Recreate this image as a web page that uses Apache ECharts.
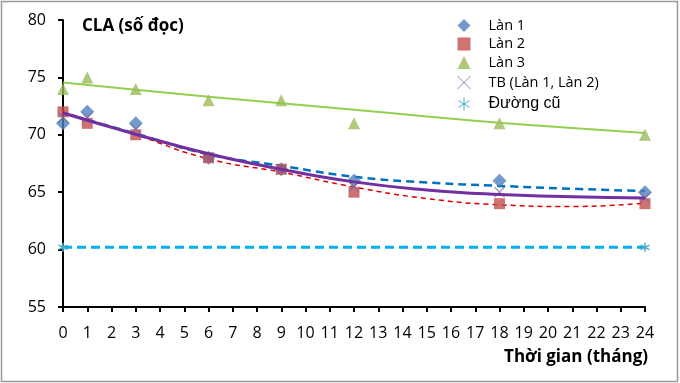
<!DOCTYPE html>
<html>
<head>
<meta charset="utf-8">
<script src="https://cdn.jsdelivr.net/npm/echarts@6/dist/echarts.min.js"></script>
<style>html,body{margin:0;padding:0;background:#fff}#c{width:680px;height:383px}</style>
</head>
<body>
<div id="c"></div>
<script>
// ---- data ----
var months = [0, 1, 3, 6, 9, 12, 18, 24];
var lan1 = [71, 72, 71, 68, 67, 66, 66, 65];
var lan2 = [72, 71, 70, 68, 67, 65, 64, 64];
var lan3 = [74, 75, 74, 73, 73, 71, 71, 70];
var tb   = [71.5, 71.5, 70.5, 68, 67, 65.5, 65, 64.5];
var cuMonths = [0, 24];
var cu = [60.2, 60.2];
// trend lines
var trendMonths = [0, 3, 6, 9, 12, 15, 18, 21, 24];
var trendLan1 = [71.9, 70.1, 68.3, 67.3, 66.35, 65.85, 65.55, 65.3, 65.1];
var trendLan2 = [72.0, 70.0, 67.9, 66.75, 65.45, 64.45, 63.9, 63.75, 64.05];
var trendLan3 = [74.55, 73.92, 73.32, 72.74, 72.18, 71.6, 71.05, 70.6, 70.16];
var trendTB   = [71.9, 70.05, 68.35, 67.0, 65.9, 65.2, 64.8, 64.6, 64.5];
var names = ['Làn 1', 'Làn 2', 'Làn 3', 'TB (Làn 1, Làn 2)', 'Đường cũ'];
var xTicks = [0, 24, 1];
var yTicks = [55, 80, 5];

function pairs(xs, ys) { return xs.map(function (x, i) { return [x, ys[i]]; }); }

var FONT = 'Open Sans';
var xPath = 'path://M0,0L10,10M10,0L0,10';
var starPath = 'path://M5,0L5,10M0.7,2.5L9.3,7.5M0.7,7.5L9.3,2.5';

var chart = echarts.init(document.getElementById('c'));
chart.setOption({
  animation: false,
  backgroundColor: '#fff',
  graphic: [{
    type: 'rect', shape: { x: 1.5, y: 1.5, width: 676, height: 380 },
    style: { fill: 'none', stroke: '#9a9a9a', lineWidth: 1.5 }, silent: true, z: -1
  }],
  title: [
    { text: 'CLA (số đọc)', left: 82, top: 18, padding: 0,
      textStyle: { fontFamily: FONT, fontSize: 17, fontWeight: 'bold', color: '#000' } },
    { text: 'Thời gian (tháng)', right: 32, top: 349, padding: 0,
      textStyle: { fontFamily: FONT, fontSize: 17, fontWeight: 'bold', color: '#000' } }
  ],
  legend: {
    orient: 'vertical', left: 450, top: 13, itemGap: 3.5, itemWidth: 13, itemHeight: 13,
    textStyle: { fontFamily: FONT, fontSize: 14.5, color: '#000', padding: [0, 0, 0, 13],
      rich: { a: { fontFamily: 'Liberation Sans', fontSize: 16, color: '#000' } } },
    formatter: function (n) { return n === 'Đường cũ' ? '{a|' + n + '}' : n; },
    data: [
      { name: names[0], icon: 'diamond' },
      { name: names[1], icon: 'rect' },
      { name: names[2], icon: 'triangle' },
      { name: names[3], icon: xPath, itemStyle: { color: 'none', borderColor: '#8064a2', borderWidth: 1 } },
      { name: names[4], icon: starPath, itemStyle: { color: 'none', borderColor: '#4bacc6', borderWidth: 1 } }
    ]
  },
  grid: { left: 63, right: 35, top: 20, bottom: 76 },
  xAxis: {
    type: 'value', min: xTicks[0], max: xTicks[1], interval: xTicks[2],
    axisLine: { lineStyle: { color: '#000', width: 2 } },
    axisTick: { show: true, length: 5, lineStyle: { color: '#000', width: 2 } },
    axisLabel: { fontFamily: FONT, fontSize: 16, color: '#000', margin: 18 },
    splitLine: { show: false }
  },
  yAxis: {
    type: 'value', min: yTicks[0], max: yTicks[1], interval: yTicks[2],
    axisLine: { show: true, lineStyle: { color: '#000', width: 2 } },
    axisTick: { show: true, length: 5, lineStyle: { color: '#000', width: 2 } },
    axisLabel: { fontFamily: FONT, fontSize: 16, color: '#000', margin: 17 },
    splitLine: { show: false }
  },
  series: [
    { name: 'trend3', type: 'line', data: pairs(trendMonths, trendLan3), smooth: true, showSymbol: false,
      lineStyle: { color: '#92d050', width: 2 }, z: 2, silent: true },
    { name: 'trend2', type: 'line', data: pairs(trendMonths, trendLan2), smooth: true, showSymbol: false,
      lineStyle: { color: '#e00000', width: 1.5, type: [5, 4] }, z: 2, silent: true },
    { name: 'trend1', type: 'line', data: pairs(trendMonths, trendLan1), smooth: true, showSymbol: false,
      lineStyle: { color: '#0070c0', width: 2.5, type: [8, 5] }, z: 2, silent: true },
    { name: names[4], type: 'line', data: pairs(cuMonths, cu), symbol: starPath, symbolSize: 9,
      itemStyle: { color: 'none', borderColor: '#4bacc6', borderWidth: 1.5 },
      lineStyle: { color: '#00b0f0', width: 3, type: [9, 5] }, z: 3 },
    { name: names[0], type: 'scatter', data: pairs(months, lan1), symbol: 'diamond', symbolSize: 14,
      itemStyle: { color: '#4f81bd' }, z: 4 },
    { name: names[1], type: 'scatter', data: pairs(months, lan2), symbol: 'rect', symbolSize: 11,
      itemStyle: { color: '#c0504d' }, z: 4 },
    { name: names[2], type: 'scatter', data: pairs(months, lan3), symbol: 'triangle', symbolSize: 12,
      itemStyle: { color: '#9bbb59' }, z: 4 },
    { name: names[3], type: 'scatter', data: pairs(months, tb), symbol: xPath, symbolSize: 10,
      itemStyle: { color: 'none', borderColor: '#8064a2', borderWidth: 1.2 }, z: 5 },
    { name: 'trendTB', type: 'line', data: pairs(trendMonths, trendTB), smooth: true, showSymbol: false,
      lineStyle: { color: '#7030a0', width: 3 }, z: 6, silent: true }
  ]
});
</script>
</body>
</html>
